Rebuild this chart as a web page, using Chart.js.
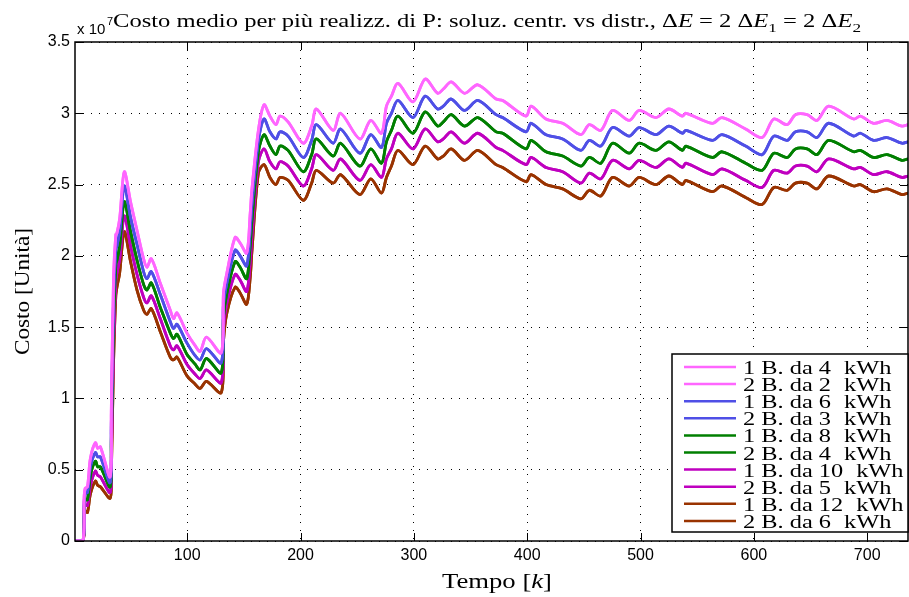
<!DOCTYPE html>
<html>
<head>
<meta charset="utf-8">
<script src="https://cdn.jsdelivr.net/npm/chart.js@4"></script>
<style>
  html, body { margin: 0; padding: 0; background: #fff; }
  #wrap { width: 909px; height: 597px; position: relative; }
</style>
</head>
<body>
<div id="wrap"><canvas id="cost-chart"></canvas></div>
<script>
const kVals = [1, 8, 9, 10, 12, 14.6, 19, 21, 23.4, 32, 33, 35, 37, 38, 40.4, 44.5, 50, 55.7, 61.5, 64.5,
  68.3, 76.2, 85, 88, 91, 99.7, 107, 111.4, 117, 130, 132, 135, 142.3, 146.7, 152.5, 155.6, 157, 162.8,
  167.8, 173, 178.3, 181.9, 189, 202.4, 209.8, 214, 228.8, 235.3, 252.3, 262, 271.4, 275.8, 280.2, 286,
  299.2, 310, 321, 326, 333, 344.7, 356.4, 372.6, 378.4, 399, 403.4, 416.6, 431.3, 447.4, 454.8, 465,
  475.3, 490, 498.8, 513.5, 525, 537, 540, 563.3, 572, 592.7, 607.3, 617.6, 629.3, 636.7, 647, 655.7,
  666, 688, 694, 705.6, 717.4, 730.6, 736];

// cost values (x 10^7)
const costPink = [0, 0, 0.30, 0.37, 0.38, 0.58, 0.69, 0.65, 0.66, 0.45, 0.90, 1.85, 2.15, 2.16, 2.26, 2.59, 2.38, 2.18, 1.98, 1.92,
  1.98, 1.81, 1.62, 1.56, 1.60, 1.46, 1.37, 1.33, 1.43, 1.32, 1.74, 1.88, 2.13, 2.09, 2.02, 2.30, 2.46, 2.88,
  3.06, 2.98, 2.92, 2.98, 2.94, 2.79, 2.91, 3.03, 2.88, 3.00, 2.82, 2.95, 2.86, 3.05, 3.12, 3.21,
  3.08, 3.24, 3.14, 3.17, 3.22, 3.14, 3.20, 3.10, 3.09, 2.98, 3.05, 2.96, 2.93, 2.85, 2.92, 2.88,
  3.02, 2.95, 3.02, 2.97, 3.03, 2.98, 3.00, 2.93, 2.97, 2.89, 2.83, 2.96, 2.92, 2.99, 2.99, 2.95,
  3.05, 2.96, 2.98, 2.93, 2.95, 2.91, 2.92];
const costBlue = [0, 0, 0.26, 0.33, 0.34, 0.52, 0.62, 0.59, 0.59, 0.41, 0.79, 1.70, 2.04, 2.07, 2.17, 2.49, 2.27, 2.08, 1.89, 1.84,
  1.89, 1.73, 1.54, 1.49, 1.52, 1.39, 1.30, 1.27, 1.35, 1.25, 1.66, 1.81, 2.04, 2.00, 1.93, 2.19, 2.35, 2.81,
  2.96, 2.87, 2.82, 2.87, 2.84, 2.69, 2.81, 2.92, 2.79, 2.89, 2.72, 2.85, 2.76, 2.93, 3.00, 3.09,
  2.97, 3.12, 3.03, 3.05, 3.10, 3.02, 3.09, 2.99, 2.97, 2.87, 2.93, 2.85, 2.82, 2.74, 2.81, 2.77,
  2.90, 2.84, 2.90, 2.85, 2.91, 2.86, 2.88, 2.81, 2.85, 2.77, 2.71, 2.84, 2.81, 2.87, 2.87, 2.83,
  2.93, 2.84, 2.86, 2.81, 2.83, 2.79, 2.80];
const costGreen = [0, 0, 0.23, 0.29, 0.29, 0.46, 0.56, 0.52, 0.52, 0.38, 0.68, 1.55, 1.94, 1.97, 2.07, 2.38, 2.17, 1.97, 1.80, 1.76,
  1.81, 1.64, 1.46, 1.42, 1.45, 1.31, 1.24, 1.20, 1.28, 1.18, 1.57, 1.74, 1.96, 1.92, 1.84, 2.08, 2.24, 2.73,
  2.85, 2.77, 2.71, 2.77, 2.74, 2.59, 2.71, 2.82, 2.70, 2.79, 2.63, 2.75, 2.65, 2.80, 2.88, 2.98,
  2.86, 3.01, 2.91, 2.94, 2.99, 2.91, 2.97, 2.87, 2.86, 2.75, 2.81, 2.73, 2.70, 2.63, 2.69, 2.65,
  2.79, 2.72, 2.79, 2.74, 2.80, 2.74, 2.77, 2.69, 2.73, 2.65, 2.60, 2.72, 2.69, 2.75, 2.75, 2.71,
  2.81, 2.73, 2.74, 2.69, 2.71, 2.67, 2.68];
const costMagenta = [0, 0, 0.19, 0.25, 0.25, 0.39, 0.49, 0.46, 0.45, 0.34, 0.56, 1.40, 1.83, 1.88, 1.98, 2.28, 2.07, 1.87, 1.71, 1.67,
  1.72, 1.56, 1.37, 1.34, 1.37, 1.24, 1.17, 1.14, 1.20, 1.11, 1.49, 1.67, 1.87, 1.83, 1.75, 1.96, 2.13, 2.66,
  2.75, 2.66, 2.61, 2.66, 2.63, 2.49, 2.61, 2.71, 2.60, 2.68, 2.53, 2.64, 2.55, 2.68, 2.75, 2.86,
  2.75, 2.89, 2.80, 2.82, 2.87, 2.79, 2.86, 2.76, 2.74, 2.64, 2.69, 2.62, 2.59, 2.51, 2.58, 2.54,
  2.67, 2.61, 2.67, 2.62, 2.68, 2.62, 2.65, 2.57, 2.61, 2.53, 2.48, 2.60, 2.58, 2.63, 2.63, 2.59,
  2.68, 2.61, 2.62, 2.57, 2.59, 2.55, 2.56];
const costBrown = [0, 0, 0.15, 0.21, 0.20, 0.33, 0.42, 0.39, 0.38, 0.30, 0.45, 1.25, 1.72, 1.78, 1.88, 2.17, 1.96, 1.76, 1.62, 1.59,
  1.63, 1.47, 1.29, 1.27, 1.29, 1.16, 1.10, 1.07, 1.12, 1.04, 1.40, 1.60, 1.78, 1.74, 1.66, 1.85, 2.02, 2.58,
  2.64, 2.55, 2.50, 2.55, 2.53, 2.39, 2.51, 2.60, 2.51, 2.57, 2.43, 2.54, 2.44, 2.55, 2.63, 2.74,
  2.64, 2.77, 2.68, 2.70, 2.75, 2.67, 2.74, 2.64, 2.62, 2.52, 2.57, 2.50, 2.47, 2.40, 2.46, 2.42,
  2.55, 2.49, 2.55, 2.50, 2.56, 2.50, 2.53, 2.45, 2.49, 2.41, 2.36, 2.48, 2.46, 2.51, 2.51, 2.47,
  2.56, 2.49, 2.50, 2.45, 2.47, 2.43, 2.44];

const legendLabels = ['1 B. da 4  kWh', '2 B. da 2  kWh', '1 B. da 6  kWh', '2 B. da 3  kWh', '1 B. da 8  kWh',
  '2 B. da 4  kWh', '1 B. da 10  kWh', '2 B. da 5  kWh', '1 B. da 12  kWh', '2 B. da 6  kWh'];
const xTicks = [100, 200, 300, 400, 500, 600, 700];
const yTicks = [0, 0.5, 1, 1.5, 2, 2.5, 3, 3.5];

const lineColors = ['#ff66ff', '#ff66ff', '#4f4fe6', '#4f4fe6', '#007f00', '#007f00',
  '#bf00bf', '#bf00bf', '#993300', '#993300'];
const seriesList = [costPink, costPink, costBlue, costBlue, costGreen, costGreen,
  costMagenta, costMagenta, costBrown, costBrown];

const SERIF = '"Liberation Serif", "DejaVu Serif", serif';
const SANS = '"Liberation Sans", Arial, sans-serif';

function toPoints(values) {
    return kVals.map((k, i) => ({ x: k, y: values[i] }));
}

// draw runs of text; style 'n' normal, 'i' italic, 's' subscript
function drawRuns(ctx, runs, x, y, size, measureOnly) {
    let cx = x;
    runs.forEach(r => {
        let fs = size, dy = 0, st = '';
        if (r.s === 'i') st = 'italic ';
        if (r.s === 's') { fs = size * 0.7; dy = size * 0.25; }
        ctx.font = st + fs + 'px ' + SERIF;
        if (!measureOnly) ctx.fillText(r.t, cx, y + dy);
        cx += ctx.measureText(r.t).width;
    });
    return cx - x;
}

// draw runs stretched horizontally so they span the given width
function drawRunsFit(ctx, runs, x, y, size, width) {
    const w = drawRuns(ctx, runs, 0, 0, size, true);
    ctx.save();
    ctx.translate(x, y);
    ctx.scale(width / w, 1);
    drawRuns(ctx, runs, 0, 0, size, false);
    ctx.restore();
}

const decorPlugin = {
    id: 'decor',
    afterDraw(chart) {
        const ctx = chart.ctx;
        const a = chart.chartArea;
        const xs = chart.scales.x, ys = chart.scales.y;
        ctx.save();
        ctx.fillStyle = '#000';
        ctx.strokeStyle = '#000';

        // inward tick marks
        ctx.lineWidth = 1;
        ctx.beginPath();
        xTicks.forEach(v => {
            const px = Math.round(xs.getPixelForValue(v)) + 0.5;
            ctx.moveTo(px, a.bottom); ctx.lineTo(px, a.bottom - 8);
            ctx.moveTo(px, a.top); ctx.lineTo(px, a.top + 8);
        });
        yTicks.forEach(v => {
            const py = Math.round(ys.getPixelForValue(v)) + 0.5;
            ctx.moveTo(a.left, py); ctx.lineTo(a.left + 8, py);
            ctx.moveTo(a.right, py); ctx.lineTo(a.right - 8, py);
        });
        ctx.stroke();

        // axes box
        ctx.lineWidth = 1.5;
        ctx.strokeRect(a.left, a.top, a.right - a.left, a.bottom - a.top);

        // exponent label and title
        ctx.textBaseline = 'alphabetic';
        ctx.textAlign = 'left';
        ctx.font = '15px ' + SANS;
        ctx.fillText('x 10', 77, 34);
        ctx.font = '11px ' + SANS;
        ctx.fillText('7', 107, 25);
        const titleRuns = [
            { t: 'Costo medio per più realizz. di P: soluz. centr. vs distr., Δ', s: 'n' },
            { t: 'E', s: 'i' }, { t: ' = 2 Δ', s: 'n' }, { t: 'E', s: 'i' }, { t: '1', s: 's' },
            { t: ' = 2 Δ', s: 'n' }, { t: 'E', s: 'i' }, { t: '2', s: 's' }
        ];
        drawRunsFit(ctx, titleRuns, 113, 27, 19, 748);

        // axis titles
        ctx.save();
        ctx.translate(29, 355);
        ctx.rotate(-Math.PI / 2);
        drawRunsFit(ctx, [{ t: 'Costo [Unità]', s: 'n' }], 0, 0, 22, 127);
        ctx.restore();
        drawRunsFit(ctx, [{ t: 'Tempo [', s: 'n' }, { t: 'k', s: 'i' }, { t: ']', s: 'n' }], 442, 588, 22, 110);

        // legend box
        const lx = 672, ly = 354, lw = 236, lh = 178;
        ctx.fillStyle = '#fff';
        ctx.fillRect(lx, ly, lw, lh);
        ctx.lineWidth = 1.5;
        ctx.strokeStyle = '#000';
        ctx.strokeRect(lx, ly, lw, lh);
        chart.data.datasets.forEach((ds, i) => {
            const ry = 367 + i * 17.1;
            ctx.strokeStyle = ds.borderColor;
            ctx.lineWidth = 2.5;
            ctx.beginPath();
            ctx.moveTo(684, ry); ctx.lineTo(736, ry);
            ctx.stroke();
            ctx.fillStyle = '#000';
            ctx.textBaseline = 'alphabetic';
            const parts = ds.label.split('  ');
            const lead = parts[0];
            // "1 B. da 4" is about 88px wide in the reference
            ctx.font = '19px ' + SERIF;
            const sx = 88 / ctx.measureText('1 B. da 4').width;
            ctx.save();
            ctx.translate(743, ry + 7);
            ctx.scale(sx, 1);
            ctx.fillText(lead, 0, 0);
            const lw1 = ctx.measureText(lead).width;
            ctx.fillText(parts[1], lw1 + 13 / sx, 0);
            ctx.restore();
        });
        ctx.restore();
    }
};

const datasets = seriesList.map((vals, i) => ({
    label: legendLabels[i],
    data: toPoints(vals),
    borderColor: lineColors[i],
    backgroundColor: lineColors[i],
    borderWidth: 2.8,
    pointRadius: 0,
    tension: 0.3,
    fill: false,
}));

const ctx = document.getElementById('cost-chart').getContext('2d');
new Chart(ctx, {
    type: 'line',
    data: { datasets: datasets },
    options: {
        responsive: true,
        maintainAspectRatio: false,
        animation: false,
        layout: { padding: { left: 0, top: 42, right: 1, bottom: 0 } },
        plugins: { legend: { display: false }, tooltip: { enabled: false } },
        scales: {
            x: {
                type: 'linear',
                min: 1,
                max: 736,
                afterBuildTicks: (scale) => { scale.ticks = xTicks.map(v => ({ value: v })); },
                afterFit: (scale) => { scale.height = 56; },
                grid: { color: '#000', lineWidth: 1, drawTicks: false },
                border: { display: false, dash: [1, 7] },
                ticks: { color: '#000', font: { family: SANS, size: 16 }, padding: 5, maxRotation: 0,
                    callback: (v) => String(v) },
            },
            y: {
                min: 0,
                max: 3.5,
                afterBuildTicks: (scale) => { scale.ticks = yTicks.map(v => ({ value: v })); },
                afterFit: (scale) => { scale.width = 75; },
                grid: { color: '#000', lineWidth: 1, drawTicks: false },
                border: { display: false, dash: [1, 7] },
                ticks: { color: '#000', font: { family: SANS, size: 16 }, padding: 5,
                    callback: (v) => String(v) },
            },
        },
    },
    plugins: [decorPlugin],
});
</script>
</body>
</html>
